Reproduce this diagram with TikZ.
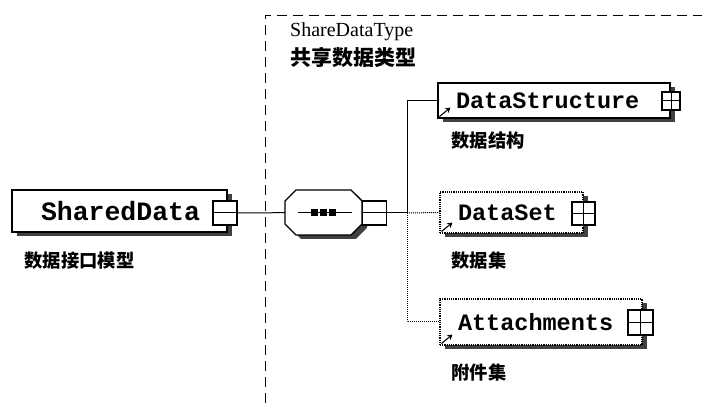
\documentclass[tikz,border=0pt]{standalone}
\usepackage{fontspec}
\setmainfont{Liberation Serif}
\newfontfamily\cjk{Noto Sans CJK SC}
\newfontfamily\elemfont{Liberation Mono}
\usetikzlibrary{shadows,arrows.meta,positioning}

\begin{document}
\begin{tikzpicture}[
    x=1pt, y=1pt,
    elem/.style={rectangle, draw, fill=white, line width=1.2pt, align=left, inner xsep=18pt, inner ysep=0pt,
      font=\elemfont\bfseries\fontsize{23.5}{26}\selectfont,
      drop shadow={shadow xshift=5pt, shadow yshift=-4pt, fill=black!75, opacity=1}},
    optelem/.style={elem, densely dotted},
    btn/.style={rectangle, draw, fill=white, line width=1.2pt, minimum size=#1, inner sep=0pt},
    note/.style={anchor=west, inner sep=0pt, font=\cjk\bfseries\fontsize{18.3}{21}\selectfont},
    link/.style={line width=1pt},
    optlink/.style={link, densely dotted},
    ref/.style={-{Stealth[length=5pt,width=6pt]}, line width=1.1pt}
]
\useasboundingbox (0,0) rectangle (702,403);

% type frame
\draw[line width=0.9pt, dash pattern=on 10pt off 6pt] (265,0) -- (265,388) -- (702,388);
\node[anchor=west, inner sep=0pt, font=\fontsize{20}{22}\selectfont] (typename) at (290,371) {ShareDataType};
\node[note, font=\cjk\bfseries\fontsize{21}{24}\selectfont] (typenote) at (290,345) {共享数据类型};

% root element
\node[elem, inner xsep=29pt, text width=157pt, minimum height=42pt,
      font=\elemfont\bfseries\fontsize{26.5}{28}\selectfont] (sd) at (119.5,192) {SharedData};
\node[btn=24pt] (sdbtn) at (225,190) {};
\node[note] (sdnote) at ([shift={(13pt,-28pt)}]sd.south west) {数据接口模型};

% sequence compositor
\fill[black!75, shift={(5,-4)}] (296,213) -- (351,213) -- (362,202) -- (362,179) -- (351,168) -- (296,168) -- (285,179) -- (285,202) -- cycle;
\draw[fill=white, line width=1.2pt] (296,213) -- (351,213) -- (362,202) -- (362,179) -- (351,168) -- (296,168) -- (285,179) -- (285,202) -- cycle;
\node[rectangle, minimum width=77pt, minimum height=45pt, inner sep=0pt] (seq) at (323.5,190.5) {};
\node[btn=24pt] (seqbtn) at (374.5,190) {};
\draw[link] ([xshift=13pt]seq.west) -- ([xshift=-10pt]seq.east);
\foreach \dx in {-9,0,9}
  \fill ([shift={(\dx pt,0pt)}]seq.center) +(-3.5pt,-3.5pt) rectangle +(3.5pt,3.5pt);
\coordinate (bus) at (407,190);

% child elements
\node[elem, text width=196pt, minimum height=35pt] (ds) at (554,302.5) {DataStructure};
\node[btn=18pt] (dsbtn) at (671,302) {};
\node[note] (dsnote) at ([shift={(14pt,-22pt)}]ds.south west) {数据结构};

\node[optelem, text width=107pt, minimum height=41pt] (dset) at (511.5,190.5) {DataSet};
\node[btn=23pt] (dsetbtn) at (583.5,189.5) {};
\node[note] (dsetnote) at ([shift={(12pt,-27pt)}]dset.south west) {数据集};

\node[optelem, text width=166pt, minimum height=46pt] (att) at (541,81) {Attachments};
\node[btn=25pt] (attbtn) at (640.5,80.5) {};
\node[note] (attnote) at ([shift={(12pt,-27pt)}]att.south west) {附件集};

% buttons
\draw[link] (sdbtn.west) -- (sdbtn.east);
\draw[link] (seqbtn.west) -- (seqbtn.east);
\foreach \b in {dsbtn,dsetbtn,attbtn}
  \draw[link] (\b.west) -- (\b.east) (\b.north) -- (\b.south);
\foreach \e in {ds,dset,att}
  \draw[ref] ([shift={(2pt,2pt)}]\e.south west) -- ++(11pt,9pt);

% connectors
\draw[link] (sdbtn) -- (seq);
\draw[link] (seqbtn) -- (bus);
\draw[link] (bus) |- (ds.west);
\draw[optlink] (bus) -- (dset.west);
\draw[optlink] (bus) |- (att.west);
\end{tikzpicture}
\end{document}
